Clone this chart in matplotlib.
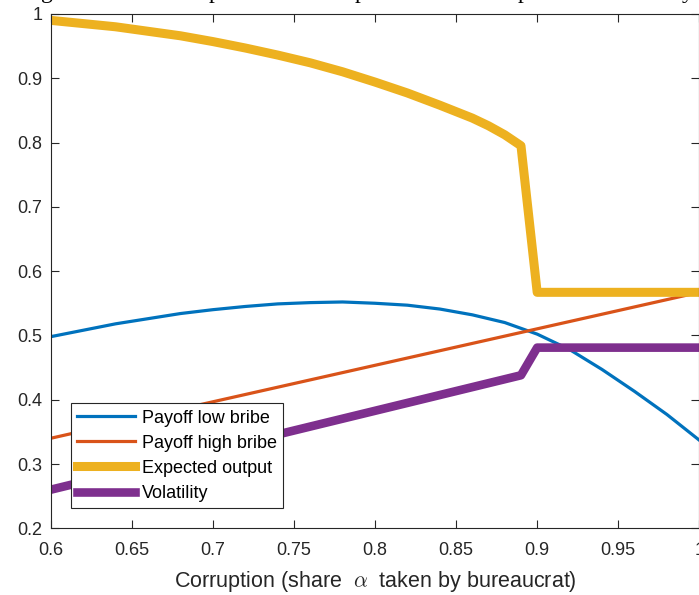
#!/usr/bin/env python3

import matplotlib
matplotlib.use("Agg")
import matplotlib.pyplot as plt
import numpy as np

# corruption share alpha
alpha = [0.60, 0.62, 0.64, 0.66, 0.68, 0.70, 0.72, 0.74, 0.76, 0.78, 0.80,
         0.82, 0.84, 0.86, 0.88, 0.90, 0.92, 0.94, 0.96, 0.98, 1.00]
payoff_low = [0.498, 0.508, 0.518, 0.526, 0.534, 0.540, 0.545, 0.549, 0.551,
              0.552, 0.550, 0.547, 0.541, 0.532, 0.520, 0.502, 0.478, 0.447,
              0.413, 0.377, 0.337]

alpha_high = [0.6, 1.0]
payoff_high = [0.340, 0.567]

alpha_out = [0.60, 0.62, 0.64, 0.66, 0.68, 0.70, 0.72, 0.74, 0.76, 0.78, 0.80,
             0.82, 0.84, 0.86, 0.87, 0.88, 0.89, 0.90, 1.00]
expected_output = [0.990, 0.985, 0.980, 0.973, 0.966, 0.957, 0.947, 0.936,
                   0.924, 0.910, 0.894, 0.877, 0.858, 0.838, 0.826, 0.812,
                   0.795, 0.567, 0.567]

alpha_vol = [0.60, 0.89, 0.90, 1.00]
volatility = [0.260, 0.438, 0.481, 0.481]

labels = ["Payoff low bribe", "Payoff high bribe", "Expected output", "Volatility"]

blue = "#0072BD"
orange = "#D95319"
yellow = "#EDB120"
purple = "#7E2F8E"
grey = "#262626"

plt.rcParams["font.family"] = ["Liberation Sans", "DejaVu Sans"]
plt.rcParams["mathtext.fontset"] = "cm"

fig = plt.figure(figsize=(6.99, 5.95), dpi=100)
ax = fig.add_axes([0.0725, 0.1121, 0.928, 0.8645])

ax.plot(alpha, payoff_low, color=blue, lw=2.3, label=labels[0])
ax.plot(alpha_high, payoff_high, color=orange, lw=2.3, label=labels[1])
ax.plot(alpha_out, expected_output, color=yellow, lw=6.5, label=labels[2],
        solid_joinstyle="round")
ax.plot(alpha_vol, volatility, color=purple, lw=6.2, label=labels[3],
        solid_joinstyle="round")

ax.set_xlim(0.6, 1.0)
ax.set_ylim(0.2, 1.0)
ax.set_xticks(np.arange(0.6, 1.001, 0.05))
ax.set_xticklabels(["0.6", "0.65", "0.7", "0.75", "0.8", "0.85", "0.9", "0.95", "1"])
ax.set_yticks(np.arange(0.2, 1.001, 0.1))
ax.set_yticklabels(["0.2", "0.3", "0.4", "0.5", "0.6", "0.7", "0.8", "0.9", "1"])
ax.tick_params(direction="in", length=6, width=0.8, color=grey, labelcolor=grey,
               labelsize=13, top=True, right=True)
ax.tick_params(axis="x", pad=10)
ax.tick_params(axis="y", pad=6)
for s in ax.spines.values():
    s.set_color(grey)
    s.set_linewidth(0.8)

ax.set_xlabel(r"Corruption (share  $\alpha$  taken by bureaucrat)", fontsize=15.5,
              color=grey, labelpad=7)

leg = ax.legend(loc="lower left", bbox_to_anchor=(0.031, 0.039),
                borderaxespad=0, fancybox=False, fontsize=13,
                handlelength=3.2, handletextpad=0.4, labelspacing=0.45,
                borderpad=0.35, framealpha=1)
leg.get_frame().set_edgecolor(grey)
leg.get_frame().set_linewidth(0.8)

# bottom of the caption line cut off above the figure
for xp, ch in [(41, "g"), (209, "p"), (355, "p"), (518, "p"), (682, "y")]:
    fig.text(xp / 699, 1 + 2 / 595, ch, fontsize=17, family="Liberation Serif",
             va="baseline", ha="left", color="black")

fig.savefig("out.png", dpi=100)
